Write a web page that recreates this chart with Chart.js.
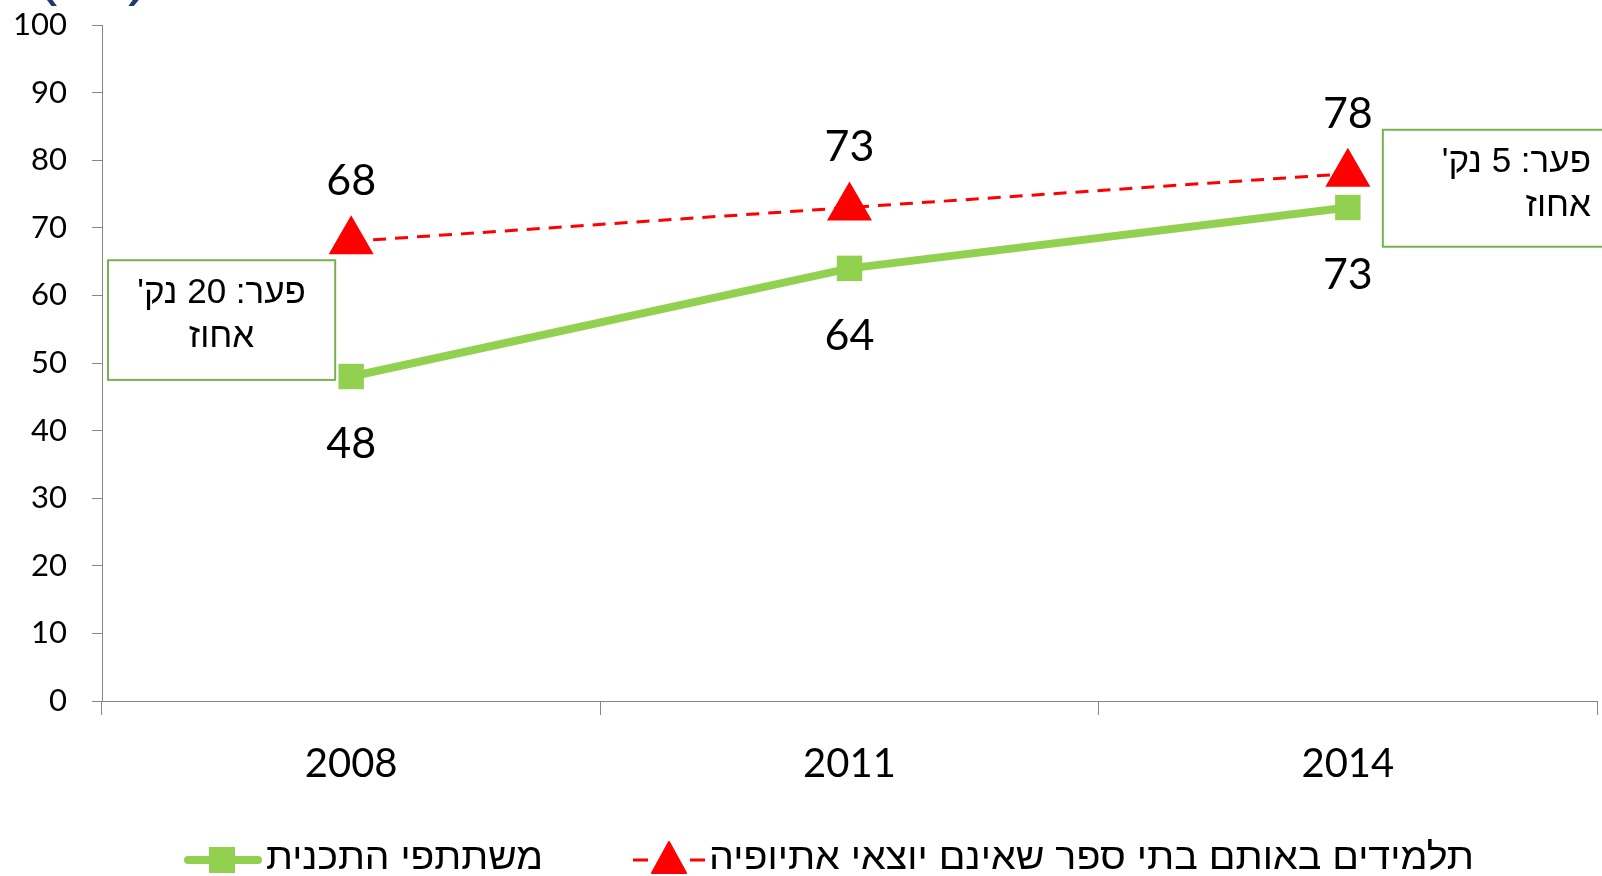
<!DOCTYPE html>
<html lang="he">
<head>
    <meta charset="UTF-8">
    <title>פער בזכאות</title>
    <script src="https://cdn.jsdelivr.net/npm/chart.js"></script>
    <style>
        html, body { margin: 0; background: #fff; overflow: hidden; }
        .container { width: 1602px; height: 876px; position: relative; }
        canvas { display: block; }
    </style>
</head>
<body>
    <div class="container">
        <canvas id="grafico"></canvas>
    </div>

    <script>
        // datos
        const anios = ['2008', '2011', '2014'];
        const participantes = [48, 64, 73];
        const comparacion = [68, 73, 78];
        const nombreParticipantes = 'משתתפי התכנית';
        const nombreComparacion = 'תלמידים באותם בתי ספר שאינם יוצאי אתיופיה';
        const notaIzq = ["פער: 20 נק'", 'אחוז'];
        const notaDer = ["פער: 5 נק'", 'אחוז'];

        const VERDE = '#92D050';
        const ROJO = '#FF0000';
        const BORDE_NOTA = '#77B150';
        const EJE = '#868686';
        const NUM_FONT = 'Lato, "Open Sans", sans-serif';
        const HEB_FONT = '"Liberation Sans", Arial, sans-serif';

        // titulo cortado arriba
        const tituloCortado = {
            id: 'tituloCortado',
            afterDraw(chart) {
                const ctx = chart.ctx;
                ctx.save();
                ctx.fillStyle = '#1F3A73';
                ctx.font = '64px ' + HEB_FONT;
                ctx.textBaseline = 'alphabetic';
                ctx.textAlign = 'left';
                ctx.fillText('(', 36, -7);
                ctx.fillText(')', 128, -7);
                ctx.fillText(',', 976, -12);
                ctx.restore();
            }
        };

        // etiquetas de valores
        const etiquetas = {
            id: 'etiquetas',
            afterDatasetsDraw(chart) {
                const ctx = chart.ctx;
                ctx.save();
                ctx.font = '43px ' + NUM_FONT;
                ctx.fillStyle = '#000';
                ctx.textAlign = 'center';
                ctx.textBaseline = 'middle';
                chart.data.datasets.forEach((ds, i) => {
                    const meta = chart.getDatasetMeta(i);
                    meta.data.forEach((p, j) => {
                        const dy = ds.etiquetaArriba ? -60 : 68;
                        ctx.fillText(String(ds.data[j]), p.x, p.y + dy);
                    });
                });
                ctx.restore();
            }
        };

        // cuadros de texto
        const notas = {
            id: 'notas',
            afterDraw(chart) {
                const ctx = chart.ctx;
                const x = chart.scales.x, y = chart.scales.y;
                const area = chart.chartArea;
                ctx.save();
                ctx.lineWidth = 2;
                ctx.strokeStyle = BORDE_NOTA;
                ctx.fillStyle = '#fff';
                ctx.font = '35px ' + HEB_FONT;
                ctx.direction = 'rtl';
                ctx.textBaseline = 'middle';

                // izquierda
                let l = area.left + 6, r = x.getPixelForValue(0) - 16;
                let t = y.getPixelForValue(65.2), b = y.getPixelForValue(47.5);
                ctx.fillRect(l, t, r - l, b - t);
                ctx.strokeRect(l, t, r - l, b - t);
                ctx.fillStyle = '#000';
                ctx.textAlign = 'center';
                ctx.fillText(notaIzq[0], (l + r) / 2, t + 33);
                ctx.fillText(notaIzq[1], (l + r) / 2, t + 77);

                // derecha
                ctx.fillStyle = '#fff';
                l = x.getPixelForValue(2) + 35; r = chart.width + 20;
                t = y.getPixelForValue(84.5); b = y.getPixelForValue(67.2);
                ctx.fillRect(l, t, r - l, b - t);
                ctx.strokeRect(l, t, r - l, b - t);
                ctx.fillStyle = '#000';
                ctx.textAlign = 'right';
                ctx.fillText(notaDer[0], area.right - 6, t + 33);
                ctx.fillText(notaDer[1], area.right - 6, t + 77);
                ctx.restore();
            }
        };

        // leyenda abajo
        const leyenda = {
            id: 'leyenda',
            afterDraw(chart) {
                const ctx = chart.ctx;
                const ds = chart.data.datasets;
                const yc = 859;
                ctx.save();

                // serie verde
                ctx.strokeStyle = ds[0].borderColor;
                ctx.lineWidth = 8;
                ctx.lineCap = 'round';
                ctx.beginPath(); ctx.moveTo(188, yc + 1); ctx.lineTo(258, yc + 1); ctx.stroke();
                ctx.fillStyle = ds[0].borderColor;
                ctx.fillRect(222 - 13, yc + 1 - 13, 26, 26);

                // serie roja
                ctx.strokeStyle = ds[1].borderColor;
                ctx.lineWidth = 3;
                ctx.lineCap = 'butt';
                ctx.beginPath();
                ctx.moveTo(633, yc + 1); ctx.lineTo(648, yc + 1);
                ctx.moveTo(690, yc + 1); ctx.lineTo(705, yc + 1);
                ctx.stroke();
                ctx.fillStyle = ds[1].borderColor;
                ctx.lineJoin = 'round';
                ctx.lineWidth = 2;
                ctx.beginPath();
                ctx.moveTo(669, yc - 17); ctx.lineTo(686, yc + 14); ctx.lineTo(652, yc + 14);
                ctx.closePath(); ctx.fill(); ctx.stroke();

                // textos
                ctx.fillStyle = '#000';
                ctx.font = '37px ' + HEB_FONT;
                ctx.textBaseline = 'middle';
                ctx.textAlign = 'left';
                const textos = [[ds[0].label, 266, 277], [ds[1].label, 709, 765]];
                textos.forEach(([txt, x0, w]) => {
                    const m = ctx.measureText(txt).width;
                    ctx.save();
                    ctx.translate(x0, yc);
                    ctx.scale(w / m, 1);
                    ctx.fillText(txt, 0, 0);
                    ctx.restore();
                });
                ctx.restore();
            }
        };

        new Chart(document.getElementById('grafico'), {
            type: 'line',
            data: {
                labels: anios,
                datasets: [
                    {
                        label: nombreParticipantes,
                        data: participantes,
                        borderColor: VERDE,
                        backgroundColor: VERDE,
                        borderWidth: 8,
                        pointStyle: 'rect',
                        pointRadius: 18,
                        pointHoverRadius: 18,
                        pointBorderWidth: 0,
                        tension: 0,
                        etiquetaArriba: false
                    },
                    {
                        label: nombreComparacion,
                        data: comparacion,
                        borderColor: ROJO,
                        backgroundColor: ROJO,
                        borderWidth: 3,
                        borderDash: [13, 9],
                        pointStyle: 'triangle',
                        pointRadius: 24,
                        pointHoverRadius: 24,
                        pointBorderWidth: 2,
                        tension: 0,
                        etiquetaArriba: true
                    }
                ]
            },
            options: {
                responsive: true,
                maintainAspectRatio: false,
                animation: false,
                layout: { autoPadding: false, padding: { top: 25, right: 5, left: 0, bottom: 95 } },
                plugins: {
                    legend: { display: false },
                    tooltip: { enabled: false },
                    title: { display: false }
                },
                scales: {
                    x: {
                        offset: true,
                        grid: {
                            offset: true,
                            drawOnChartArea: false,
                            color: EJE,
                            tickLength: 14
                        },
                        border: { color: EJE, width: 1 },
                        ticks: {
                            color: '#000',
                            font: { family: NUM_FONT, size: 40 },
                            padding: 25,
                            maxRotation: 0
                        },
                        afterFit(scale) {
                            scale.height = 80;
                            scale.paddingLeft = 0;
                            scale.paddingRight = 0;
                        }
                    },
                    y: {
                        min: 0,
                        max: 100,
                        grid: {
                            drawOnChartArea: false,
                            color: EJE,
                            tickLength: 10
                        },
                        border: { color: EJE, width: 1 },
                        ticks: {
                            stepSize: 10,
                            color: '#000',
                            font: { family: NUM_FONT, size: 31 },
                            padding: 25
                        },
                        afterFit(scale) {
                            scale.width = 102;
                            scale.paddingTop = 0;
                            scale.paddingBottom = 0;
                        }
                    }
                }
            },
            plugins: [etiquetas, notas, leyenda, tituloCortado]
        });
    </script>
</body>
</html>
